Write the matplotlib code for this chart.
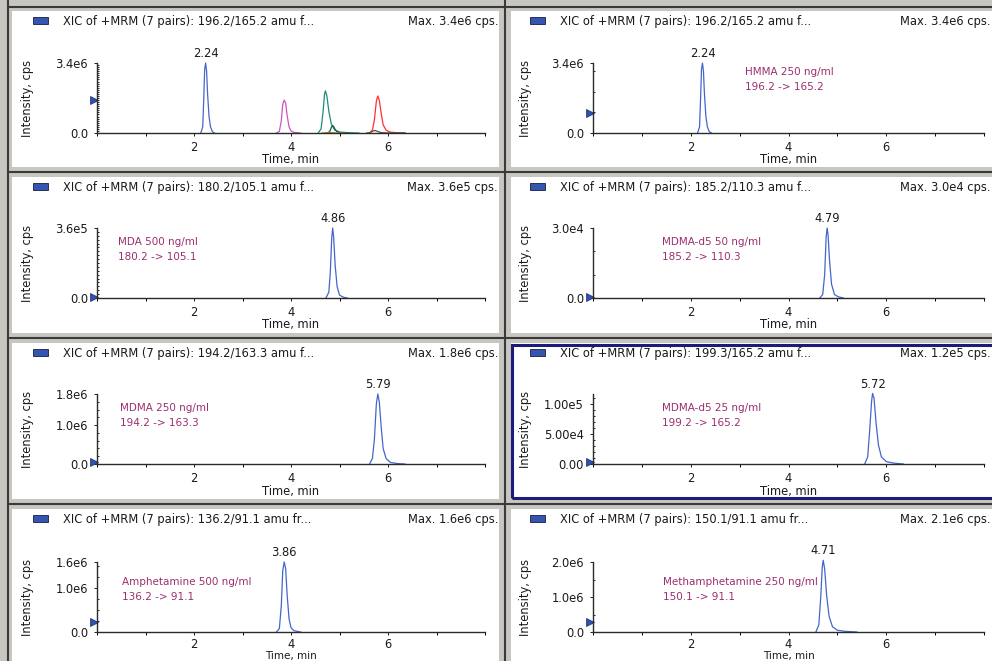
import matplotlib.pyplot as plt
from matplotlib.patches import Rectangle
from matplotlib.lines import Line2D
from matplotlib.ticker import MultipleLocator

# XIC-трассы, считанные со скриншота (время, мин / интенсивность, cps)
hmma_t = [2.14, 2.18, 2.20, 2.22, 2.24, 2.26, 2.28, 2.31, 2.34, 2.38, 2.42]
hmma_i = [0, 0.3e6, 1.6e6, 3.1e6, 3.4e6, 3.0e6, 1.9e6, 0.8e6, 0.3e6, 0.06e6, 0]

amph_t = [3.70, 3.76, 3.80, 3.83, 3.86, 3.89, 3.92, 3.96, 4.00, 4.06, 4.15, 4.20]
amph_i = [0, 0.08e6, 0.6e6, 1.4e6, 1.6e6, 1.45e6, 0.85e6, 0.3e6, 0.1e6, 0.03e6, 0.01e6, 0]

meth_t = [4.56, 4.62, 4.66, 4.69, 4.71, 4.74, 4.78, 4.83, 4.90, 5.00, 5.15, 5.40]
meth_i = [0, 0.2e6, 1.0e6, 1.85e6, 2.05e6, 1.8e6, 1.05e6, 0.45e6, 0.15e6, 0.05e6, 0.02e6, 0]

mda_t = [4.72, 4.78, 4.81, 4.84, 4.86, 4.88, 4.91, 4.95, 5.00, 5.08, 5.16]
mda_i = [0, 0.3e5, 1.3e5, 3.1e5, 3.6e5, 3.1e5, 1.7e5, 0.6e5, 0.15e5, 0.04e5, 0]

d5_185_t = [4.64, 4.70, 4.74, 4.77, 4.79, 4.81, 4.84, 4.88, 4.94, 5.02, 5.12]
d5_185_i = [0, 0.15e4, 1.0e4, 2.6e4, 3.0e4, 2.7e4, 1.6e4, 0.6e4, 0.15e4, 0.05e4, 0]

mdma_t = [5.62, 5.68, 5.72, 5.76, 5.79, 5.82, 5.86, 5.90, 5.96, 6.05, 6.20, 6.35]
mdma_i = [0, 0.15e6, 0.65e6, 1.55e6, 1.8e6, 1.6e6, 0.95e6, 0.4e6, 0.14e6, 0.04e6, 0.01e6, 0]

d5_199_t = [5.56, 5.62, 5.66, 5.70, 5.72, 5.75, 5.79, 5.84, 5.90, 6.00, 6.15, 6.35]
d5_199_i = [0, 0.12e5, 0.55e5, 1.05e5, 1.18e5, 1.1e5, 0.7e5, 0.32e5, 0.12e5, 0.04e5, 0.015e5, 0]

# подписи панелей (слева направо, сверху вниз)
xic_labels = ["196.2/165.2 amu f...", "196.2/165.2 amu f...", "180.2/105.1 amu f...",
              "185.2/110.3 amu f...", "194.2/163.3 amu f...", "199.3/165.2 amu f...",
              "136.2/91.1 amu fr...", "150.1/91.1 amu fr..."]
max_labels = ["3.4e6", "3.4e6", "3.6e5", "3.0e4", "1.8e6", "1.2e5", "1.6e6", "2.1e6"]
names = [None, "HMMA 250 ng/ml", "MDA 500 ng/ml", "MDMA-d5 50 ng/ml", "MDMA 250 ng/ml",
         "MDMA-d5 25 ng/ml", "Amphetamine 500 ng/ml", "Methamphetamine 250 ng/ml"]
transitions = [None, "196.2 -> 165.2", "180.2 -> 105.1", "185.2 -> 110.3", "194.2 -> 163.3",
               "199.2 -> 165.2", "136.2 -> 91.1", "150.1 -> 91.1"]
apex_labels = ["2.24", "2.24", "4.86", "4.79", "5.79", "5.72", "3.86", "4.71"]
ytick_values = [[0, 3.4e6], [0, 3.4e6], [0, 3.6e5], [0, 3.0e4], [0, 1.0e6, 1.8e6],
                [0, 5.0e4, 1.0e5], [0, 1.0e6, 1.6e6], [0, 1.0e6, 2.0e6]]
ytick_labels = [["0.0", "3.4e6"], ["0.0", "3.4e6"], ["0.0", "3.6e5"], ["0.0", "3.0e4"],
                ["0.0", "1.0e6", "1.8e6"], ["0.00", "5.00e4", "1.00e5"],
                ["0.0", "1.0e6", "1.6e6"], ["0.0", "1.0e6", "2.0e6"]]
y_max = [3.4e6, 3.4e6, 3.6e5, 3.0e4, 1.8e6, 1.17e5, 1.6e6, 2.0e6]
y_minor = [0.1e6, 1.0e6, 0.2e5, 1.0e4, 0.2e6, 1.0e4, 0.25e6, 0.5e6]

traces = {
    "hmma": (hmma_t, hmma_i), "amph": (amph_t, amph_i), "meth": (meth_t, meth_i),
    "mda": (mda_t, mda_i), "d5_185": (d5_185_t, d5_185_i), "mdma": (mdma_t, mdma_i),
    "d5_199": (d5_199_t, d5_199_i),
}
panel_trace = ["all", "hmma", "mda", "d5_185", "mdma", "d5_199", "amph", "meth"]
overlay_colors = {"hmma": "#4a64c8", "amph": "#cc55c0", "meth": "#1e8c7a", "mda": "#0d5c3c",
                  "d5_185": "#b08020", "mdma": "#ff3030", "d5_199": "#505050"}

W, H = 992, 661
plt.rcParams['font.family'] = ['DejaVu Sans']
plt.rcParams['font.size'] = 8.3

fig = plt.figure(figsize=(W / 100, H / 100), dpi=100, facecolor="#c8c6c0")


def fx(x):
    return x / W


def fy(y):
    return 1 - y / H


def px_rect(x0, y0, x1, y1, **kw):
    r = Rectangle((fx(x0), fy(y1)), (x1 - x0) / W, (y1 - y0) / H,
                  transform=fig.transFigure, zorder=-10, **kw)
    fig.add_artist(r)


# рамки панелей
col_lines = [8, 505]
row_lines = [7, 172, 338, 504]
col_white = [(12, 499), (511, 995)]
row_white = [(11, 167), (177, 333), (343, 499), (509, 670)]
for x in col_lines:
    fig.add_artist(Line2D([fx(x), fx(x)], [0, 1], transform=fig.transFigure,
                          color="#3a3a3a", lw=1.5, zorder=-9))
for y in row_lines:
    fig.add_artist(Line2D([fx(8), 1], [fy(y), fy(y)], transform=fig.transFigure,
                          color="#3a3a3a", lw=1.5, zorder=-9))
for c in range(2):
    for r in range(4):
        px_rect(col_white[c][0], row_white[r][0], col_white[c][1], row_white[r][1],
                facecolor="white", edgecolor="none")
# выделенная панель
px_rect(512, 345, 1000, 498, facecolor="none", edgecolor="#1c1c78", lw=2.2)

col_off = [0, 497]
ax_x = [(97, 485), (593, 984)]
base_y = [133, 298, 464, 632]
note_pos = [None, (745, 72), (118, 242), (662, 242), (120, 408), (662, 408), (122, 582), (663, 582)]
marker_frac = [0.47, 0.29, 0.02, 0.02, 0.03, 0.03, 0.14, 0.14]
max_right = [498, 991]

text_color = "#1a1a1a"
note_color = "#9c2f6e"

for k in range(8):
    col, row = k % 2, k // 2
    x0, x1 = ax_x[col]
    yb = base_y[row]
    yt = yb - 70
    ax = fig.add_axes([fx(x0), fy(yb), (x1 - x0) / W, (yb - yt) / H])
    ax.set_facecolor("none")

    if panel_trace[k] == "all":
        for key, (t, i) in traces.items():
            ax.plot(t, i, color=overlay_colors[key], lw=0.9, clip_on=False)
        apex_t, apex_i = hmma_t, hmma_i
    else:
        apex_t, apex_i = traces[panel_trace[k]]
        ax.plot(apex_t, apex_i, color="#4466cc", lw=0.9, clip_on=False)

    ax.set_xlim(0, 8)
    ax.set_ylim(0, y_max[k])
    ax.set_xticks([2, 4, 6])
    ax.set_xticklabels(["2", "4", "6"])
    ax.xaxis.set_minor_locator(MultipleLocator(1))
    ax.set_yticks(ytick_values[k])
    ax.set_yticklabels(ytick_labels[k])
    ax.yaxis.set_minor_locator(MultipleLocator(y_minor[k]))
    for s in ["top", "right"]:
        ax.spines[s].set_visible(False)
    for s in ["left", "bottom"]:
        ax.spines[s].set_color("#2a2a2a")
        ax.spines[s].set_linewidth(1.0)
    xpad = 3.5 if row < 3 else 2.0
    ax.tick_params(axis="x", which="major", length=2.5, width=0.7, pad=xpad, colors=text_color)
    ax.tick_params(axis="x", which="minor", length=2, width=0.7)
    ax.tick_params(axis="y", which="major", length=2.5, width=0.7, pad=4, colors=text_color)
    ax.tick_params(axis="y", which="minor", length=1.5, width=0.6, direction="in")

    # метка вершины пика
    ia = apex_i.index(max(apex_i))
    ax.annotate(apex_labels[k], xy=(float(apex_labels[k]), apex_i[ia]), xytext=(0, 2),
                textcoords="offset points", ha="center", va="bottom", color=text_color,
                annotation_clip=False)

    # маркер уровня на оси Y
    ax.plot([-0.008], [marker_frac[k]], transform=ax.transAxes, marker=">", ms=6,
            color="#3050b0", mec="#1a2a70", mew=0.5, clip_on=False, ls="none")

    # тексты панели
    off = col_off[col]
    ty = row_white[row][0] + 10
    px_rect(off + 33, ty - 4, off + 48, ty + 3, facecolor="#3556b0", edgecolor="#1a1a40", lw=0.6)
    fig.text(fx(off + 63), fy(ty), "XIC of +MRM (7 pairs): " + xic_labels[k],
             ha="left", va="center", color=text_color)
    fig.text(fx(max_right[col]), fy(ty), "Max. " + max_labels[k] + " cps.",
             ha="right", va="center", color=text_color)
    fig.text(fx(off + 28), fy(yb - 35), "Intensity, cps", rotation=90,
             ha="center", va="center", color=text_color, fontsize=8.3)
    if row < 3:
        fig.text(fx((x0 + x1) / 2), fy(yb + 27), "Time, min", ha="center", va="center",
                 color=text_color)
    else:
        # нижний ряд: подпись прижата к краю картинки
        fig.text(fx((x0 + x1) / 2), fy(661), "Time, min", ha="center", va="bottom",
                 color=text_color, fontsize=7.5)
    if names[k]:
        nx, ny = note_pos[k]
        fig.text(fx(nx), fy(ny), names[k], ha="left", va="center", color=note_color,
                 fontsize=7.5)
        fig.text(fx(nx), fy(ny + 15), transitions[k], ha="left", va="center",
                 color=note_color, fontsize=7.5)

fig.savefig("out.png", dpi=100, facecolor=fig.get_facecolor())
